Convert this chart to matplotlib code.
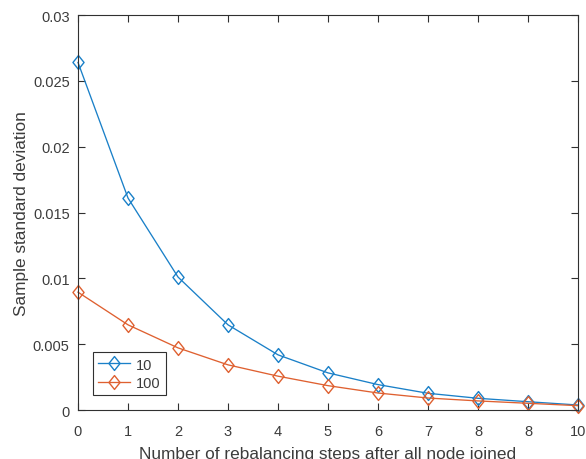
import matplotlib
matplotlib.use("Agg")
import matplotlib.pyplot as plt
from matplotlib.path import Path

steps = [0, 1, 2, 3, 4, 5, 6, 7, 8, 9, 10]
std_10 = [0.0264, 0.0161, 0.0101, 0.00647, 0.00419, 0.00282, 0.00193, 0.00127, 0.00089, 0.00063, 0.00038]
std_100 = [0.00895, 0.00647, 0.00472, 0.00343, 0.00257, 0.00185, 0.00129, 0.00091, 0.00069, 0.00051, 0.00033]
series_labels = ["10", "100"]
x_tick_labels = ["0", "1", "2", "3", "4", "5", "6", "7", "8", "8", "10"]
y_ticks = [0, 0.005, 0.01, 0.015, 0.02, 0.025, 0.03]
y_tick_labels = ["0", "0.005", "0.01", "0.015", "0.02", "0.025", "0.03"]

plt.rcParams["font.family"] = ["Liberation Sans", "DejaVu Sans"]

blue = "#1A80C8"
orange = "#DF6030"
grey = "#303030"
text_grey = "#3C3C3C"

diamond = Path([(0, 1), (0.8, 0), (0, -1), (-0.8, 0), (0, 1)],
               [Path.MOVETO, Path.LINETO, Path.LINETO, Path.LINETO, Path.CLOSEPOLY])

fig = plt.figure(figsize=(5.86, 4.6), dpi=100)
ax = fig.add_axes([0.1331, 0.1065, 0.8532, 0.8587])

ax.plot(steps, std_10, color=blue, lw=0.95, marker=diamond, markersize=10,
        markerfacecolor="none", markeredgecolor=blue, markeredgewidth=1.0,
        label=series_labels[0], clip_on=False)
ax.plot(steps, std_100, color=orange, lw=0.95, marker=diamond, markersize=10,
        markerfacecolor="none", markeredgecolor=orange, markeredgewidth=1.0,
        label=series_labels[1], clip_on=False)

ax.set_xlim(0, 10)
ax.set_ylim(0, 0.03)
ax.set_xticks(steps)
ax.set_xticklabels(x_tick_labels)
ax.set_yticks(y_ticks)
ax.set_yticklabels(y_tick_labels)

ax.tick_params(direction="in", top=True, right=True, length=5, width=0.8,
               colors=grey, labelsize=10.5, labelcolor=text_grey)
ax.tick_params(axis="x", pad=10)
ax.tick_params(axis="y", pad=6)
for s in ax.spines.values():
    s.set_color(grey)
    s.set_linewidth(0.8)

ax.set_xlabel("Number of rebalancing steps after all node joined",
              fontsize=12.4, color=text_grey, labelpad=5.5)
ax.set_ylabel("Sample standard deviation", fontsize=12.4, color=text_grey,
              labelpad=2.5)

leg = ax.legend(loc="lower left", bbox_to_anchor=(0.03, 0.038), fontsize=10.5,
                frameon=True, fancybox=False, edgecolor=grey, framealpha=1,
                handlelength=2.2, handletextpad=0.4, borderpad=0.35,
                labelspacing=0.3, borderaxespad=0)
leg.get_frame().set_linewidth(0.8)
for t in leg.get_texts():
    t.set_color(text_grey)

fig.savefig("out.png", dpi=100)
